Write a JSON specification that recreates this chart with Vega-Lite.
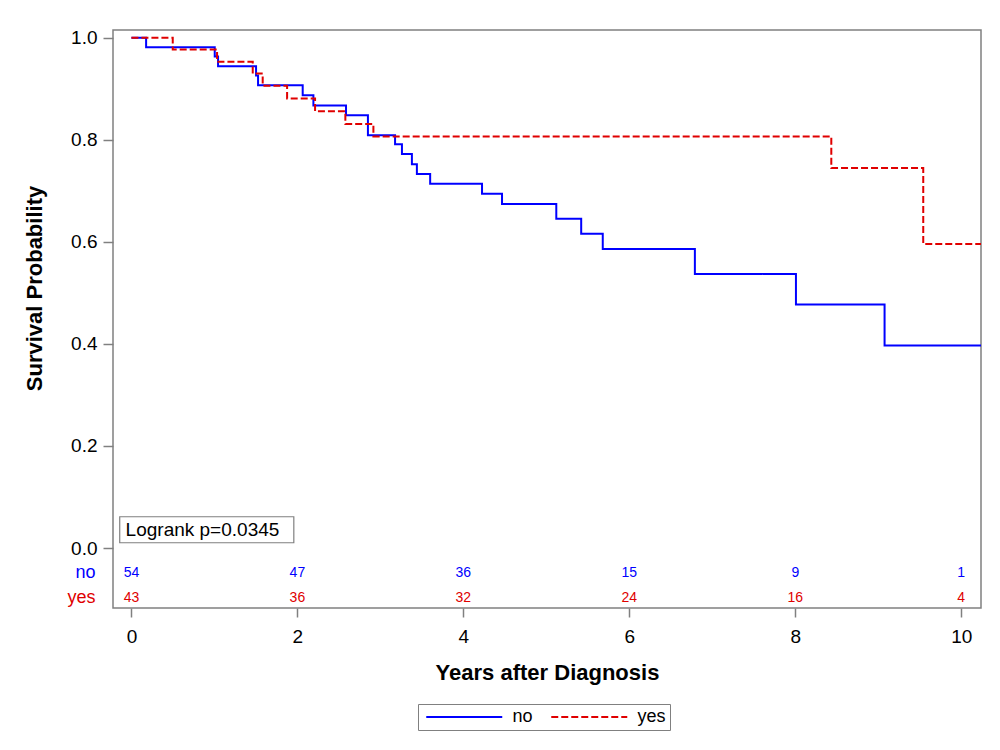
{
  "$schema": "https://vega.github.io/schema/vega-lite/v6.json",
  "width": 868,
  "height": 578,
  "autosize": {"type": "none"},
  "padding": {"left": 113, "top": 30, "right": 19, "bottom": 142},
  "background": "white",
  "datasets": {
    "km": [
      {"group": "no", "t": 0, "s": 1.0},
      {"group": "no", "t": 0.177, "s": 0.9815},
      {"group": "no", "t": 1.004, "s": 0.963},
      {"group": "no", "t": 1.044, "s": 0.944},
      {"group": "no", "t": 1.502, "s": 0.926},
      {"group": "no", "t": 1.526, "s": 0.907},
      {"group": "no", "t": 2.064, "s": 0.887},
      {"group": "no", "t": 2.193, "s": 0.867},
      {"group": "no", "t": 2.586, "s": 0.848},
      {"group": "no", "t": 2.85, "s": 0.809},
      {"group": "no", "t": 3.177, "s": 0.791},
      {"group": "no", "t": 3.26, "s": 0.772},
      {"group": "no", "t": 3.38, "s": 0.752},
      {"group": "no", "t": 3.44, "s": 0.733},
      {"group": "no", "t": 3.6, "s": 0.714},
      {"group": "no", "t": 4.225, "s": 0.694},
      {"group": "no", "t": 4.466, "s": 0.674},
      {"group": "no", "t": 5.12, "s": 0.645},
      {"group": "no", "t": 5.42, "s": 0.616},
      {"group": "no", "t": 5.68, "s": 0.586},
      {"group": "no", "t": 6.79, "s": 0.537},
      {"group": "no", "t": 8.008, "s": 0.477},
      {"group": "no", "t": 9.076, "s": 0.397},
      {"group": "no", "t": 10.238, "s": 0.397},
      {"group": "yes", "t": 0, "s": 1.0},
      {"group": "yes", "t": 0.498, "s": 0.977},
      {"group": "yes", "t": 1.032, "s": 0.953},
      {"group": "yes", "t": 1.462, "s": 0.93},
      {"group": "yes", "t": 1.582, "s": 0.906},
      {"group": "yes", "t": 1.876, "s": 0.881},
      {"group": "yes", "t": 2.213, "s": 0.856},
      {"group": "yes", "t": 2.578, "s": 0.831},
      {"group": "yes", "t": 2.916, "s": 0.8065},
      {"group": "yes", "t": 8.434, "s": 0.7445},
      {"group": "yes", "t": 9.542, "s": 0.596},
      {"group": "yes", "t": 10.238, "s": 0.596}
    ],
    "risk": [
      {"group": "no", "t": 0, "n": 54},
      {"group": "no", "t": 2, "n": 47},
      {"group": "no", "t": 4, "n": 36},
      {"group": "no", "t": 6, "n": 15},
      {"group": "no", "t": 8, "n": 9},
      {"group": "no", "t": 10, "n": 1},
      {"group": "yes", "t": 0, "n": 43},
      {"group": "yes", "t": 2, "n": 36},
      {"group": "yes", "t": 4, "n": 32},
      {"group": "yes", "t": 6, "n": 24},
      {"group": "yes", "t": 8, "n": 16},
      {"group": "yes", "t": 10, "n": 4}
    ],
    "one": [{"label": "Logrank p=0.0345"}]
  },
  "layer": [
    {
      "data": {"name": "km"},
      "mark": {"type": "line", "interpolate": "step-after", "strokeWidth": 2, "clip": true},
      "encoding": {
        "x": {
          "field": "t", "type": "quantitative",
          "scale": {"domain": [-0.222, 10.238], "nice": false, "zero": false},
          "axis": {"values": [0, 2, 4, 6, 8, 10], "format": "d", "title": "Years after Diagnosis", "tickSize": 9, "labelPadding": 10, "titlePadding": 16}
        },
        "y": {
          "field": "s", "type": "quantitative",
          "scale": {"domain": [-0.1175, 1.0151], "nice": false, "zero": false},
          "axis": {"values": [0, 0.2, 0.4, 0.6, 0.8, 1.0], "format": ".1f", "title": "Survival Probability", "tickSize": 10, "labelPadding": 6, "titlePadding": 24, "titleY": 258}
        },
        "color": {
          "field": "group", "type": "nominal",
          "scale": {"domain": ["no", "yes"], "range": ["#0000ff", "#e00000"]},
          "legend": {"title": null, "orient": "none", "legendX": 305, "legendY": 674, "labelExpr": "datum.label == 'yes' ? 'yes  ' : datum.label"}
        },
        "strokeDash": {
          "field": "group", "type": "nominal",
          "scale": {"domain": ["no", "yes"], "range": [[1, 0], [7, 3]]},
          "legend": {"title": null, "orient": "none", "legendX": 305, "legendY": 674, "labelExpr": "datum.label == 'yes' ? 'yes  ' : datum.label"}
        }
      }
    },
    {
      "data": {"name": "one"},
      "mark": {"type": "rect", "fill": "white", "stroke": "#808080", "strokeWidth": 1.2},
      "encoding": {
        "x": {"datum": -0.141},
        "x2": {"datum": 1.957},
        "y": {"datum": 0.0104},
        "y2": {"datum": 0.0613}
      }
    },
    {
      "data": {"name": "one"},
      "mark": {"type": "text", "align": "left", "baseline": "middle", "font": "Liberation Sans", "fontSize": 19, "color": "black"},
      "encoding": {
        "x": {"datum": -0.07},
        "y": {"datum": 0.036},
        "text": {"field": "label", "type": "nominal"}
      }
    },
    {
      "data": {"name": "risk"},
      "transform": [{"filter": "datum.group === 'no'"}],
      "mark": {"type": "text", "align": "center", "baseline": "middle", "font": "Liberation Sans", "fontSize": 14, "color": "#0000ff"},
      "encoding": {
        "x": {"field": "t", "type": "quantitative"},
        "y": {"datum": -0.049},
        "text": {"field": "n", "type": "quantitative"}
      }
    },
    {
      "data": {"name": "risk"},
      "transform": [{"filter": "datum.group === 'yes'"}],
      "mark": {"type": "text", "align": "center", "baseline": "middle", "font": "Liberation Sans", "fontSize": 14, "color": "#e00000"},
      "encoding": {
        "x": {"field": "t", "type": "quantitative"},
        "y": {"datum": -0.097},
        "text": {"field": "n", "type": "quantitative"}
      }
    },
    {
      "data": {"name": "risk"},
      "transform": [{"filter": "datum.group === 'no' && datum.t === 0"}],
      "mark": {"type": "text", "align": "right", "baseline": "middle", "font": "Liberation Sans", "fontSize": 18, "color": "#0000ff"},
      "encoding": {
        "x": {"datum": -0.434},
        "y": {"datum": -0.049},
        "text": {"field": "group", "type": "nominal"}
      }
    },
    {
      "data": {"name": "risk"},
      "transform": [{"filter": "datum.group === 'yes' && datum.t === 0"}],
      "mark": {"type": "text", "align": "right", "baseline": "middle", "font": "Liberation Sans", "fontSize": 18, "color": "#e00000"},
      "encoding": {
        "x": {"datum": -0.434},
        "y": {"datum": -0.097},
        "text": {"field": "group", "type": "nominal"}
      }
    }
  ],
  "config": {
    "view": {"stroke": "#808080", "strokeWidth": 1.5},
    "axis": {
      "domain": false,
      "grid": false,
      "ticks": true,
      "tickColor": "#808080",
      "tickWidth": 1.5,
      "labelFont": "Liberation Sans",
      "labelFontSize": 19,
      "labelColor": "black",
      "titleFont": "Liberation Sans",
      "titleFontSize": 22,
      "titleFontWeight": "bold",
      "titleColor": "black"
    },
    "legend": {
      "direction": "horizontal",
      "gridAlign": "none",
      "symbolType": "M-1,0H15",
      "symbolSize": 90.25,
      "symbolStrokeWidth": 2,
      "labelFont": "Liberation Sans",
      "labelFontSize": 18,
      "labelColor": "black",
      "labelOffset": 72.5,
      "columnPadding": 14,
      "strokeColor": "#808080",
      "fillColor": "white",
      "padding": 4
    }
  }
}
